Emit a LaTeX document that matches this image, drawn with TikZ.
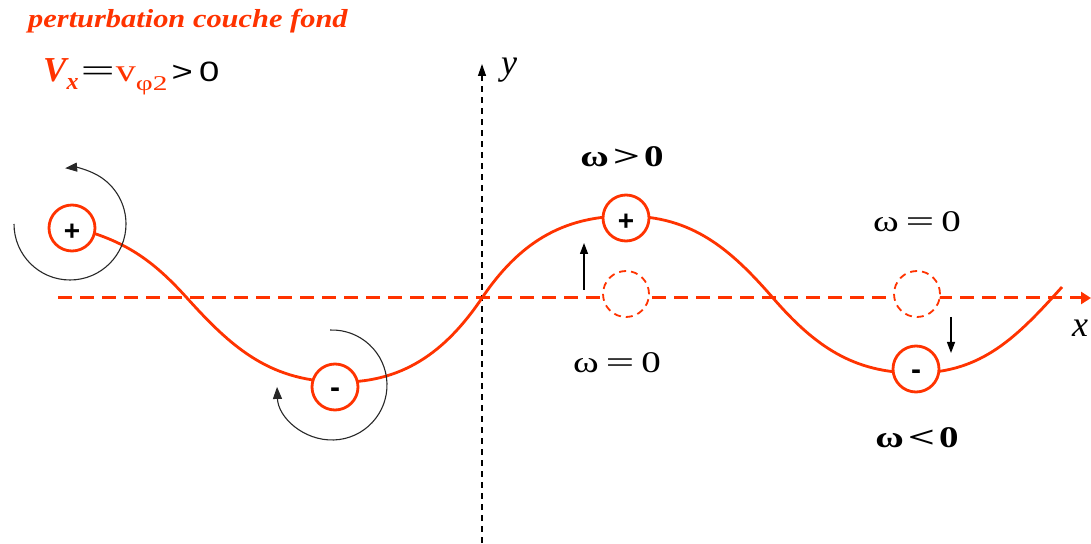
\documentclass[tikz,border=0pt]{standalone}
\usepackage{fontspec}
\setmainfont{Liberation Serif}
\newfontfamily\arialf{Liberation Sans}
\usetikzlibrary{arrows.meta}
\definecolor{tred}{RGB}{255,51,0}
\definecolor{arcgray}{RGB}{40,40,40}
\newcommand{\xst}[2][1.3]{\scalebox{#1}[1]{#2}}
\begin{document}
\begin{tikzpicture}[x=1pt,y=1pt,
  wavecurve/.style={draw=tred, line width=2.8pt, line join=round},
  signcircle/.style={circle, draw=tred, line width=2.8pt, fill=white, minimum size=46pt, inner sep=0pt, font=\arialf\bfseries\fontsize{28}{28}\selectfont},
  signplus/.style={signcircle, text height=26pt, text depth=0pt},
  signminus/.style={signcircle, font=\arialf\bfseries\fontsize{30}{30}\selectfont, text height=22pt, text depth=0pt},
  ghostcircle/.style={circle, draw=tred, line width=1.8pt, dash pattern=on 7pt off 5pt, fill=white, minimum size=46pt, inner sep=0pt},
  spinarrow/.style={draw=arcgray, line width=1.1pt, -{Triangle[length=12pt,width=9pt]}},
  pusharrow/.style={draw=black, line width=1.3pt, -{Triangle[length=11pt,width=8pt]}},
  omlab/.style={font=\fontsize{30}{30}\selectfont, inner sep=0pt},
  xaxis/.style={draw=tred, line width=3pt, dash pattern=on 14pt off 8pt, -{Triangle[length=10pt,width=12pt]}},
  yaxis/.style={draw=black, line width=1.3pt, dash pattern=on 6pt off 5pt, -{Triangle[length=12pt,width=8pt]}},
]
\useasboundingbox (0,0) rectangle (1091,543);
\fill[white] (0,0) rectangle (1091,543);

% axes
\coordinate (xS) at (58,245);
\coordinate (xE) at (1091,245);
\coordinate (yS) at (482,0);
\coordinate (yE) at (482,479);
\draw[xaxis] (xS) -- (xE);
\draw[yaxis] (yS) -- (yE);
\node[font=\fontsize{36}{36}\selectfont\itshape, inner sep=0pt] (ylab) at (509,473) {y};
\node[font=\fontsize{36}{36}\selectfont\itshape, inner sep=0pt, anchor=base west] (xlab) at (1072,206) {x};

% wave
\coordinate (w0) at (72,316);
\coordinate (w1) at (187,245);
\coordinate (w2) at (335,161);
\coordinate (w3) at (482,245);
\coordinate (w4) at (626,327);
\coordinate (w5) at (773,245);
\coordinate (w6) at (916,170);
\coordinate (w7) at (1062,256);
\draw[wavecurve] (w0) to[out=-14, in=132] (w1)
  to[out=-48, in=178] (w2)
  to[out=-2, in=-124] (w3)
  to[out=56, in=180] (w4)
  to[out=0, in=131] (w5)
  to[out=-49, in=180] (w6)
  to[out=0, in=-132] (w7);

% circles
\node[signplus] (p1) at (72,315) {+};
\node[signminus] (m1) at (335,156) {-};
\node[signplus] (p2) at (626,325) {+};
\node[signminus] (m2) at (916,174) {-};
\node[ghostcircle] (g1) at (626,249) {};
\node[ghostcircle] (g2) at (917,249) {};

% displacement arrows
\coordinate (upS) at (584,253);
\coordinate (upE) at (584,300);
\draw[pusharrow] (upS) -- (upE);
\coordinate (dnS) at (951,226);
\coordinate (dnE) at (951,190);
\draw[pusharrow] (dnS) -- (dnE);

% rotation arrows
\coordinate (spinA) at (70,319);
\draw[spinarrow] ([shift={(180:56)}]spinA) arc[start angle=180, end angle=455, radius=56];
\coordinate (spinB) at (332,158);
\draw[spinarrow] ([shift={(92:55)}]spinB) arc[start angle=92, end angle=-178, radius=55];

% omega labels
\node[omlab, font=\fontsize{30}{30}\selectfont\bfseries] (wpos) at (622,386) {\xst{ω}\hspace{4pt}\xst[1.6]{>}\hspace{4pt}\xst{0}};
\node[omlab] (wz1) at (917,321) {\xst{ω}\hspace{7pt}\xst[1.7]{=}\hspace{7pt}\xst{0}};
\node[omlab] (wz2) at (617,180) {\xst{ω}\hspace{7pt}\xst[1.7]{=}\hspace{7pt}\xst{0}};
\node[omlab, font=\fontsize{30}{30}\selectfont\bfseries] (wneg) at (917,105) {\xst{ω}\hspace{4pt}\xst[1.6]{<}\hspace{4pt}\xst{0}};

% title and velocity
\node[anchor=base west, inner sep=0pt, text=tred, font=\fontsize{26}{26}\selectfont\bfseries\itshape] (title) at (28,515) {\xst[1.17]{perturbation couche fond}};
\node[anchor=base west, inner sep=0pt] (vx) at (43,461) {\color{tred}\fontsize{35}{35}\selectfont\bfseries\itshape V\raisebox{-8pt}{\fontsize{24}{24}\selectfont x}\hspace{2pt}\color{black}\normalfont\fontsize{32}{32}\selectfont\scalebox{1.9}[1]{=}\hspace{1pt}\color{tred}\scalebox{1.25}[1]{v}\raisebox{-9pt}{\fontsize{21}{21}\selectfont\scalebox{1.4}[1]{φ2}}\hspace{4pt}\color{black}\arialf\fontsize{28}{28}\selectfont\scalebox{1.3}[1]{>\hspace{5pt}0}};
\end{tikzpicture}
\end{document}
